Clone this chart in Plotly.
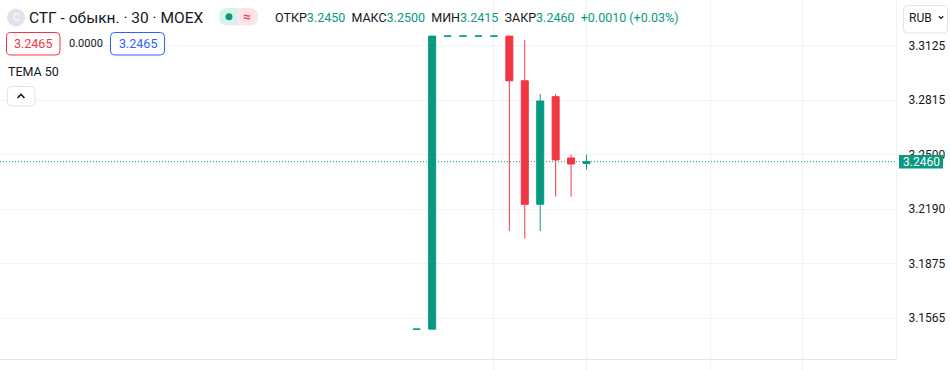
import plotly.graph_objects as go

# ---------------- data ----------------
bar_index = list(range(12))
opens  = [3.1500, 3.1500, 3.3180, 3.3180, 3.3180, 3.3180, 3.3180, 3.2924, 3.2216, 3.2833, 3.2481, 3.2450]
highs  = [3.1500, 3.3180, 3.3180, 3.3180, 3.3180, 3.3180, 3.3180, 3.3158, 3.2848, 3.2848, 3.2500, 3.2500]
lows   = [3.1500, 3.1500, 3.3180, 3.3180, 3.3180, 3.3180, 3.2063, 3.2019, 3.2063, 3.2260, 3.2260, 3.2415]
closes = [3.1500, 3.3180, 3.3180, 3.3180, 3.3180, 3.3180, 3.2924, 3.2216, 3.2808, 3.2470, 3.2447, 3.2460]

y_tick_values = [3.15625, 3.1875, 3.21875, 3.25, 3.28125, 3.3125]
y_tick_labels = ["3.1565", "3.1875", "3.2190", "3.2500", "3.2815", "3.3125"]
time_grid_bars = [5, 11, 19, 25]

symbol_title = "СТГ - обыкн. · 30 · MOEX"
ohlc_labels = ["ОТКР", "МАКС", "МИН", "ЗАКР"]
change_text = "+0.0010 (+0.03%)"
bid_text, spread_text, ask_text = "3.2465", "0.0000", "3.2465"
indicator_text = "TEMA 50"
currency_text = "RUB"

# ---------------- style ----------------
W, H = 950, 370
PW, PH = 896, 359
UP, DOWN = "#089981", "#F23645"
TXT = "#131722"
GRID = "#f0f3fa"
FONT = "Roboto"

def px(x):
    return x / PW

def py(y):
    return 1 - y / PH

def rrect(x0, y0, x1, y1, rl=4, rr=4):
    pts = [
        ("M", x0 + rl, y0), ("L", x1 - rr, y0), ("Q", x1, y0, x1, y0 + rr),
        ("L", x1, y1 - rr), ("Q", x1, y1, x1 - rr, y1), ("L", x0 + rl, y1),
        ("Q", x0, y1, x0, y1 - rl), ("L", x0, y0 + rl), ("Q", x0, y0, x0 + rl, y0),
    ]
    s = ""
    for p in pts:
        if p[0] == "Q":
            s += f"Q{px(p[1]):.5f},{py(p[2]):.5f} {px(p[3]):.5f},{py(p[4]):.5f} "
        else:
            s += f"{p[0]}{px(p[1]):.5f},{py(p[2]):.5f} "
    return s + "Z"

def polyline(points):
    return "M" + " L".join(f"{px(a):.5f},{py(b):.5f}" for a, b in points)

fig = go.Figure()
fig.add_trace(go.Candlestick(
    x=bar_index, open=opens, high=highs, low=lows, close=closes,
    increasing=dict(line=dict(color=UP, width=1), fillcolor=UP),
    decreasing=dict(line=dict(color=DOWN, width=1), fillcolor=DOWN),
    whiskerwidth=0, hoverinfo="skip",
))

last = closes[-1]
shapes = []
annotations = []

# last price dotted line
shapes.append(dict(type="line", xref="paper", yref="y", x0=0, x1=1, y0=last, y1=last,
                   line=dict(color=UP, width=1, dash="1px,2px"), layer="below"))
# last price label on axis
shapes.append(dict(type="rect", xref="paper", yref="y", x0=px(899), x1=px(943),
                   ysizemode="pixel", yanchor=last, y0=-6.7, y1=6.7,
                   fillcolor=UP, line=dict(width=0), layer="above"))
annotations.append(dict(xref="paper", yref="y", x=px(921), y=last, text=f"{last:.4f}",
                        showarrow=False, font=dict(family=FONT, size=12, color="white"),
                        xanchor="center", yanchor="middle"))

# logo circle
shapes.append(dict(type="circle", xref="paper", yref="paper", x0=px(7), x1=px(25), y0=py(8.5), y1=py(26.5),
                   fillcolor="#e0e3eb", line=dict(width=0)))
annotations.append(dict(xref="paper", yref="paper", x=px(16), y=py(17.5), text="C", showarrow=False,
                        font=dict(family=FONT, size=10, color="white"), xanchor="center", yanchor="middle"))
# title
annotations.append(dict(xref="paper", yref="paper", x=px(27), y=py(17.5), text=symbol_title, showarrow=False,
                        font=dict(family=FONT, size=15.5, color=TXT), xanchor="left", yanchor="middle"))
# status pill
shapes.append(dict(type="path", xref="paper", yref="paper", path=rrect(219, 8, 238.5, 25.5, rl=8.5, rr=0),
                   fillcolor="#daf1ea", line=dict(width=0)))
shapes.append(dict(type="path", xref="paper", yref="paper", path=rrect(238.5, 8, 258, 25.5, rl=0, rr=8.5),
                   fillcolor="#fde3e8", line=dict(width=0)))
shapes.append(dict(type="circle", xref="paper", yref="paper", x0=px(225.5), x1=px(232.5), y0=py(13.3), y1=py(20.3),
                   fillcolor=UP, line=dict(width=0)))
annotations.append(dict(xref="paper", yref="paper", x=px(247.5), y=py(16.5), text="<b>≈</b>", showarrow=False,
                        font=dict(family=FONT, size=13, color=DOWN), xanchor="center", yanchor="middle"))

# OHLC line
vals = [opens[-1], highs[-1], lows[-1], closes[-1]]
parts = []
for lab, v in zip(ohlc_labels, vals):
    parts.append(f"{lab}<span style='color:{UP}'>{v:.4f}</span>")
ohlc_text = "&nbsp;&nbsp;".join(parts) + f"&nbsp;&nbsp;<span style='color:{UP}'>{change_text}</span>"
annotations.append(dict(xref="paper", yref="paper", x=px(273), y=py(17.5), text=ohlc_text, showarrow=False,
                        font=dict(family=FONT, size=12.5, color=TXT), xanchor="left", yanchor="middle"))

# bid / spread / ask boxes
shapes.append(dict(type="path", xref="paper", yref="paper", path=rrect(6.5, 32.5, 60, 55),
                   fillcolor="white", line=dict(color=DOWN, width=1)))
annotations.append(dict(xref="paper", yref="paper", x=px(33.2), y=py(43.7), text=bid_text, showarrow=False,
                        font=dict(family=FONT, size=12.5, color=DOWN), xanchor="center", yanchor="middle"))
annotations.append(dict(xref="paper", yref="paper", x=px(85.5), y=py(43.7), text=spread_text, showarrow=False,
                        font=dict(family=FONT, size=11, color=TXT), xanchor="center", yanchor="middle"))
shapes.append(dict(type="path", xref="paper", yref="paper", path=rrect(110.5, 32.5, 164.5, 55),
                   fillcolor="white", line=dict(color="#2962FF", width=1)))
annotations.append(dict(xref="paper", yref="paper", x=px(137.5), y=py(43.7), text=ask_text, showarrow=False,
                        font=dict(family=FONT, size=12.5, color="#2962FF"), xanchor="center", yanchor="middle"))

# indicator legend
annotations.append(dict(xref="paper", yref="paper", x=px(6), y=py(71.5), text=indicator_text, showarrow=False,
                        font=dict(family=FONT, size=12.5, color=TXT), xanchor="left", yanchor="middle"))
shapes.append(dict(type="path", xref="paper", yref="paper", path=rrect(7.5, 86.5, 35, 106),
                   fillcolor="white", line=dict(color="#e0e3eb", width=1)))
shapes.append(dict(type="path", xref="paper", yref="paper", path=polyline([(17.5, 98), (21, 94.5), (24.5, 98)]),
                   line=dict(color=TXT, width=1.6)))

# currency box
shapes.append(dict(type="path", xref="paper", yref="paper", path=rrect(903.5, 5.5, 947.5, 33),
                   fillcolor="white", line=dict(color="#e0e3eb", width=1)))
annotations.append(dict(xref="paper", yref="paper", x=px(906.5), y=py(18), text=currency_text, showarrow=False,
                        font=dict(family=FONT, size=12, color=TXT), xanchor="left", yanchor="middle"))
shapes.append(dict(type="path", xref="paper", yref="paper", path=polyline([(938.8, 16.3), (941, 18.5), (943.2, 16.3)]),
                   line=dict(color=TXT, width=1.2)))

x_left = -416.7 / 15.44
x_right = (PW - 416.7) / 15.44

fig.update_layout(
    width=W, height=H,
    margin=dict(l=0, r=W - PW, t=0, b=H - PH),
    paper_bgcolor="white", plot_bgcolor="white",
    showlegend=False, boxgap=0.35,
    shapes=shapes, annotations=annotations,
    xaxis=dict(range=[x_left, x_right], rangeslider=dict(visible=False),
               tickmode="array", tickvals=time_grid_bars, showticklabels=False,
               showgrid=True, gridcolor=GRID, gridwidth=1, zeroline=False,
               ticks="outside", ticklen=11, tickcolor=GRID, tickwidth=1,
               showline=True, linecolor="#e0e3eb", linewidth=1, fixedrange=True),
    yaxis=dict(range=[3.1329, 3.3387], side="right", tickmode="array",
               tickvals=y_tick_values, ticktext=y_tick_labels,
               showgrid=True, gridcolor=GRID, gridwidth=1, zeroline=False,
               ticks="", ticklabelstandoff=9,
               tickfont=dict(family=FONT, size=12, color=TXT),
               showline=True, linecolor=GRID, linewidth=1, fixedrange=True),
    font=dict(family=FONT),
)

fig.write_html("out.html", config={"displayModeBar": False},
               post_script="document.body.style.margin='0';document.body.style.overflow='hidden';")
